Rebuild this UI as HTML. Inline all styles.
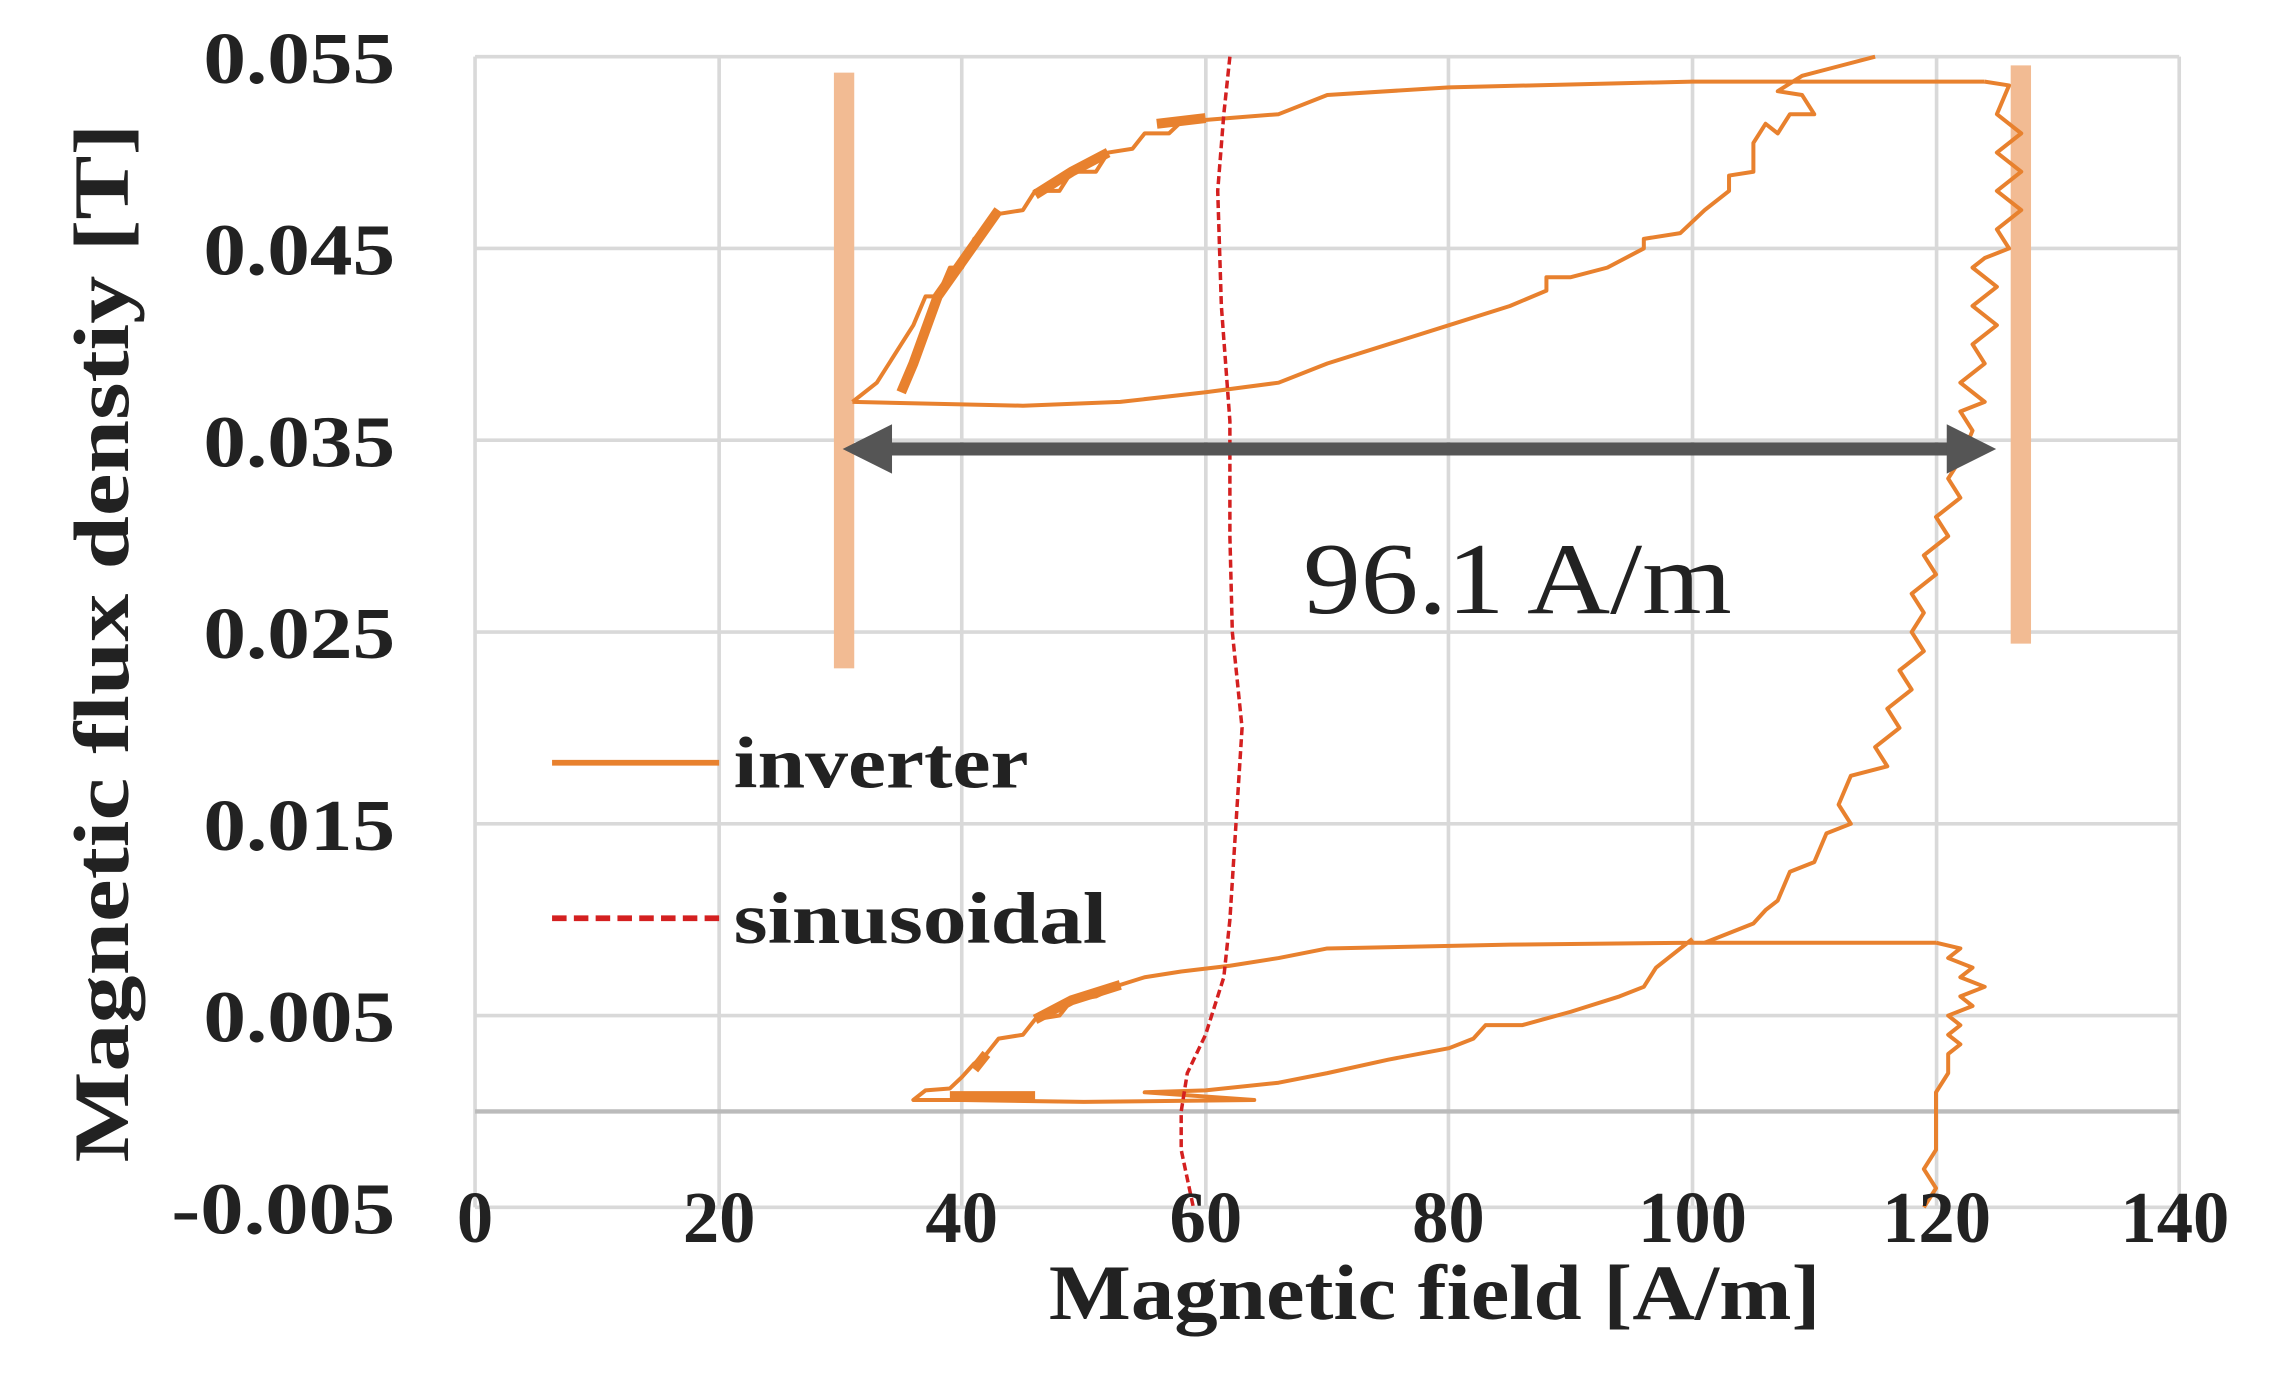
<!DOCTYPE html>
<html><head><meta charset="utf-8"><style>html,body{margin:0;padding:0;background:#fff}svg{display:block}</style></head>
<body>
<svg width="2278" height="1373" viewBox="0 0 1568 945" preserveAspectRatio="none" xmlns="http://www.w3.org/2000/svg">
<rect width="1568" height="945" fill="#fff"/>
<g stroke="#d9d9d9" stroke-width="2.5">
<line x1="327" y1="39" x2="1500" y2="39"/><line x1="327" y1="171" x2="1500" y2="171"/><line x1="327" y1="303" x2="1500" y2="303"/><line x1="327" y1="435" x2="1500" y2="435"/><line x1="327" y1="567" x2="1500" y2="567"/><line x1="327" y1="699" x2="1500" y2="699"/><line x1="327" y1="831" x2="1500" y2="831"/>
<line x1="327" y1="39" x2="327" y2="831"/><line x1="495" y1="39" x2="495" y2="831"/><line x1="662" y1="39" x2="662" y2="831"/><line x1="830" y1="39" x2="830" y2="831"/><line x1="997" y1="39" x2="997" y2="831"/><line x1="1165" y1="39" x2="1165" y2="831"/><line x1="1333" y1="39" x2="1333" y2="831"/><line x1="1500" y1="39" x2="1500" y2="831"/>
</g>
<line x1="327" y1="765" x2="1500" y2="765" stroke="#bbb" stroke-width="3"/>
<rect x="574" y="50" width="14" height="410" fill="#f2bb93"/>
<rect x="1384" y="45" width="14" height="398" fill="#f2bb93"/>
<g transform="translate(327,765) scale(8.38,-13200)" fill="none">
<path vector-effect="non-scaling-stroke" stroke="#e8812e" stroke-width="4" stroke-linejoin="round" d="M31,0.037 L45,0.0368 L53,0.037 L60,0.0375 L66,0.038 L70,0.039 L75,0.040 L80,0.041 L85,0.042 L88,0.0428 L88,0.0435 L90,0.0435 L93,0.044 L96,0.045 L96,0.0455 L99,0.0458 L101,0.047 L103,0.048 L103,0.0488 L105,0.049 L105,0.0505 L106,0.0515 L107,0.051 L108,0.052 L110,0.052 L109,0.053 L107,0.0532 L109,0.054 L112,0.0545 L115,0.055"/>
<path vector-effect="non-scaling-stroke" stroke="#e8812e" stroke-width="4" stroke-linejoin="round" d="M124,0.0537 L100,0.0537 L80,0.0534 L70,0.053 L66,0.052 L62,0.0518 L58,0.0516 L57,0.051 L55,0.051 L54,0.0502 L52,0.050 L51,0.049 L49,0.049 L48,0.048 L46,0.048 L45,0.047 L43,0.0468 L42,0.046 L41,0.0455 L40,0.044 L39,0.044 L38,0.0425 L37,0.0425 L36,0.041 L35,0.040 L34,0.039 L33,0.038 L32,0.0375 L31,0.037"/>
<path vector-effect="non-scaling-stroke" stroke="#e8812e" stroke-width="10" d="M43,0.047 L38,0.0425 L36,0.039 L35,0.0375 M52,0.050 L49,0.049 L46,0.0478 M56,0.0515 L60,0.0518"/>
<path vector-effect="non-scaling-stroke" stroke="#e8812e" stroke-width="4" stroke-linejoin="round" d="M124,0.0537 L126,0.0535 L125,0.052 L127,0.051 L125,0.050 L127,0.049 L125,0.048 L127,0.047 L125,0.046 L126,0.045 L124,0.0445 L123,0.044 L125,0.043 L123,0.042 L125,0.041 L123,0.040 L124,0.039 L122,0.038 L124,0.037 L122,0.0365 L123,0.0355 L122,0.034 L121,0.033 L122,0.032 L120,0.031 L121,0.030 L119,0.029 L120,0.028 L118,0.027 L119,0.026 L118,0.025 L119,0.024 L117,0.023 L118,0.022 L116,0.021 L117,0.020 L115,0.019 L116,0.018 L113,0.0175 L112,0.016 L113,0.015 L111,0.0145 L110,0.013 L108,0.0125 L107,0.011 L106,0.0105 L105,0.0098 L103,0.0093 L101,0.0088"/>
<path vector-effect="non-scaling-stroke" stroke="#e8812e" stroke-width="4" stroke-linejoin="round" d="M120,0.0088 L100,0.0088 L85,0.0087 L70,0.0085 L66,0.008 L62,0.0076 L58,0.0073 L55,0.007 L53,0.0066 L51,0.006 L49,0.0058 L48,0.005 L46,0.0048 L45,0.004 L43,0.0038 L42,0.003 L41,0.0025 L40,0.0018 L39,0.0012 L37,0.0011 L36,0.0006 L40,0.0006 L50,0.0005 L64,0.0006 L55,0.001 L60,0.0011 L66,0.0015 L70,0.002 L75,0.0027 L80,0.0033 L82,0.0038 L83,0.0045 L86,0.0045 L90,0.0052 L94,0.006 L96,0.0065 L97,0.0075 L98,0.008 L100,0.009"/>
<path vector-effect="non-scaling-stroke" stroke="#e8812e" stroke-width="10" d="M53,0.0066 L49,0.0058 L46,0.0048 M42,0.003 L41,0.0022 M39,0.0008 L46,0.0008"/>
<path vector-effect="non-scaling-stroke" stroke="#e8812e" stroke-width="4" stroke-linejoin="round" d="M120,0.0088 L122,0.0085 L121,0.008 L123,0.0075 L122,0.007 L124,0.0065 L122,0.006 L123,0.0055 L121,0.005 L122,0.0045 L121,0.004 L122,0.0035 L121,0.003 L121,0.002 L120,0.001 L120,0 L120,-0.002 L119,-0.003 L120,-0.004 L119,-0.005"/>
<path vector-effect="non-scaling-stroke" stroke="#d42020" stroke-width="3.5" stroke-dasharray="8,4" d="M62,0.055 L61.5,0.052 L61,0.048 L61.3,0.042 L62,0.036 L62,0.03 L62.2,0.025 L63,0.02 L62.5,0.015 L62,0.01 L61.5,0.007 L60,0.004 L58.5,0.002 L58,0 L58,-0.002 L59,-0.005"/>
</g>
<line x1="600" y1="309" x2="1352" y2="309" stroke="#555" stroke-width="9"/>
<polygon points="580,309 614,292 614,326" fill="#555"/>
<polygon points="1374,309 1340,292 1340,326" fill="#555"/>
<text x="897" y="422" font-family="Liberation Serif, serif" font-size="70" textLength="295" lengthAdjust="spacingAndGlyphs" fill="#222">96.1 A/m</text>
<line x1="380" y1="525" x2="495" y2="525" stroke="#e8812e" stroke-width="4"/>
<line x1="380" y1="632" x2="495" y2="632" stroke="#d42020" stroke-width="4" stroke-dasharray="10,5"/>
<g font-family="Liberation Serif, serif" font-weight="bold" fill="#222">
<text x="505" y="542" font-size="50" textLength="203" lengthAdjust="spacingAndGlyphs">inverter</text>
<text x="505" y="649" font-size="50" textLength="257" lengthAdjust="spacingAndGlyphs">sinusoidal</text>
<g font-size="50">
<text x="140" y="57" textLength="132" lengthAdjust="spacingAndGlyphs">0.055</text><text x="140" y="189" textLength="132" lengthAdjust="spacingAndGlyphs">0.045</text><text x="140" y="321" textLength="132" lengthAdjust="spacingAndGlyphs">0.035</text><text x="140" y="453" textLength="132" lengthAdjust="spacingAndGlyphs">0.025</text><text x="140" y="585" textLength="132" lengthAdjust="spacingAndGlyphs">0.015</text><text x="140" y="717" textLength="132" lengthAdjust="spacingAndGlyphs">0.005</text><text x="118" y="849" textLength="154" lengthAdjust="spacingAndGlyphs">-0.005</text>
</g>
<g font-size="50" text-anchor="middle">
<text x="327" y="855">0</text><text x="495" y="855">20</text><text x="662" y="855">40</text><text x="830" y="855">60</text><text x="997" y="855">80</text><text x="1165" y="855">100</text><text x="1333" y="855">120</text><text x="1497" y="855">140</text>
</g>
<text x="722" y="908" font-size="54" textLength="531" lengthAdjust="spacingAndGlyphs">Magnetic field [A/m]</text>
<text transform="translate(88,800) rotate(-90)" font-size="54" textLength="715" lengthAdjust="spacingAndGlyphs">Magnetic flux denstiy [T]</text>
</g>
</svg>
</body></html>
